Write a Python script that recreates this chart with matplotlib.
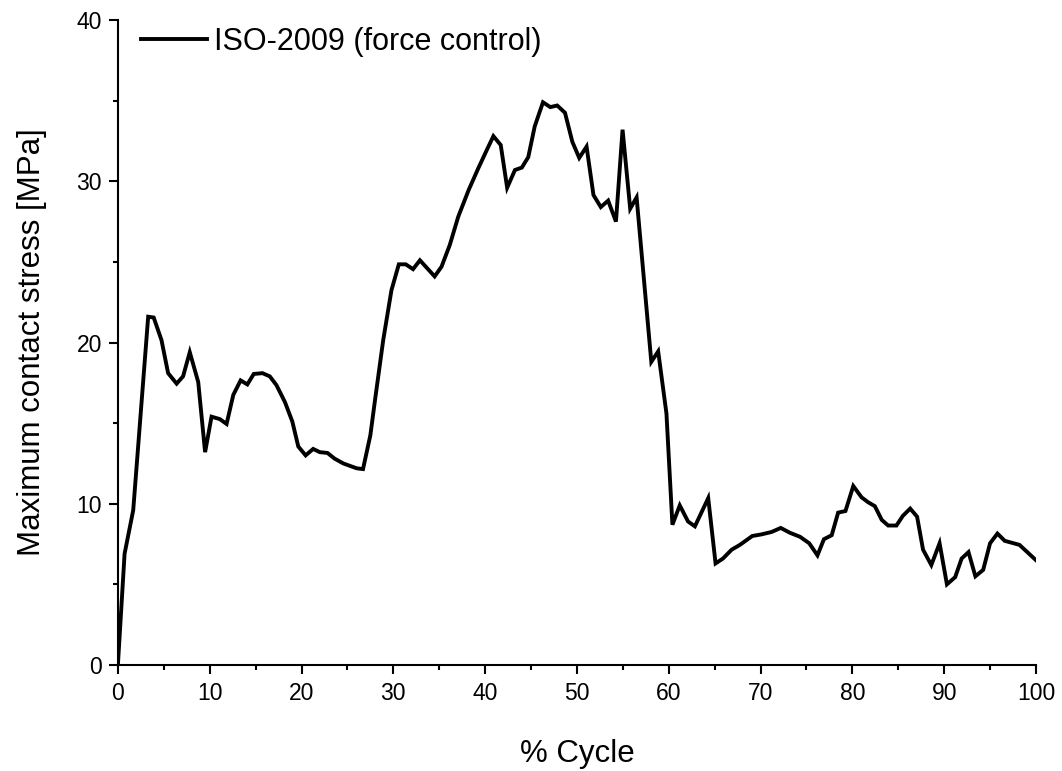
import numpy as np
import matplotlib.pyplot as plt
from matplotlib.ticker import MultipleLocator

plt.rcParams['font.family'] = ['Liberation Sans', 'DejaVu Sans']

# % cycle and maximum contact stress [MPa]
cycle = [0, 0.73, 1.67, 3.3, 3.9, 4.75, 5.47, 6.4, 7.1, 7.83, 8.75, 9.5, 10.2,
         11.1, 11.84, 12.57, 13.37, 14.1, 14.8, 15.75, 16.55, 17.28, 18.2, 19.0,
         19.65, 20.45, 21.27, 22.0, 22.83, 23.6, 24.55, 26.0, 26.7, 27.5, 28.0,
         28.9, 29.8, 30.6, 31.35, 32.15, 32.9, 34.5, 35.25, 36.15, 37.07, 38.2,
         39.25, 40.15, 40.9, 41.7, 42.4, 43.25, 44.0, 44.7, 45.4, 46.3, 47.1,
         47.85, 48.7, 49.5, 50.25, 51.05, 51.8, 52.6, 53.4, 54.25, 54.97, 55.8,
         56.5, 58.1, 58.85, 59.75, 60.4, 61.2, 62.1, 62.85, 64.3, 65.1, 65.9,
         66.85, 67.75, 69.1, 70.1, 71.2, 72.2, 73.2, 74.3, 75.3, 76.2, 76.9,
         77.75, 78.45, 79.25, 80.1, 81.0, 81.7, 82.45, 83.2, 83.9, 84.8, 85.5,
         86.3, 87.05, 87.7, 88.6, 89.5, 90.3, 91.2, 91.9, 92.65, 93.4, 94.25,
         95.0, 95.8, 96.6, 98.2, 100]
stress = [0, 6.9, 9.6, 21.6, 21.55, 20.15, 18.1, 17.45, 17.9, 19.4, 17.55, 13.2,
          15.4, 15.25, 14.95, 16.75, 17.65, 17.4, 18.05, 18.1, 17.9, 17.35, 16.3,
          15.1, 13.55, 13.0, 13.4, 13.2, 13.15, 12.8, 12.5, 12.2, 12.15, 14.25,
          16.4, 20.15, 23.25, 24.85, 24.85, 24.55, 25.1, 24.1, 24.7, 26.05, 27.8,
          29.45, 30.8, 31.9, 32.8, 32.25, 29.6, 30.7, 30.85, 31.5, 33.4, 34.9,
          34.6, 34.7, 34.25, 32.45, 31.45, 32.15, 29.15, 28.4, 28.8, 27.5, 33.2,
          28.3, 29.0, 18.8, 19.45, 15.6, 8.7, 9.9, 8.9, 8.6, 10.35, 6.3, 6.6,
          7.15, 7.45, 8.0, 8.1, 8.25, 8.5, 8.2, 7.95, 7.55, 6.8, 7.8, 8.05, 9.45,
          9.55, 11.1, 10.4, 10.1, 9.85, 9.0, 8.65, 8.65, 9.25, 9.7, 9.2, 7.15,
          6.2, 7.55, 5.0, 5.45, 6.6, 7.0, 5.5, 5.9, 7.55, 8.15, 7.7, 7.45, 6.5]

fig = plt.figure(figsize=(10.62, 7.71), dpi=100)
ax = fig.add_axes([0.111, 0.1375, 0.8645, 0.8365])

ax.plot(cycle, stress, color='black', lw=2.8, solid_joinstyle='miter',
        label='ISO-2009 (force control)')

ax.set_xlim(0, 100)
ax.set_ylim(0, 40)
ax.xaxis.set_major_locator(MultipleLocator(10))
ax.xaxis.set_minor_locator(MultipleLocator(5))
ax.yaxis.set_major_locator(MultipleLocator(10))
ax.yaxis.set_minor_locator(MultipleLocator(5))

for s in ['top', 'right']:
    ax.spines[s].set_visible(False)
for s in ['left', 'bottom']:
    ax.spines[s].set_linewidth(1.5)
ax.tick_params(which='major', direction='out', length=6.5, width=1.5, labelsize=16.5)
ax.tick_params(which='minor', direction='out', length=3.6, width=1.5)
ax.tick_params(axis='x', which='major', pad=6)
ax.tick_params(axis='y', which='major', pad=5)

ax.set_xlabel('% Cycle', fontsize=22.5, labelpad=24)
ax.set_ylabel('Maximum contact stress [MPa]', fontsize=22.5, labelpad=21)

ax.legend(loc='upper left', frameon=False, fontsize=22, handlelength=2.15,
          handletextpad=0.25, borderaxespad=0.0, bbox_to_anchor=(0.012, 1.008))

fig.savefig('out.png', dpi=100)
